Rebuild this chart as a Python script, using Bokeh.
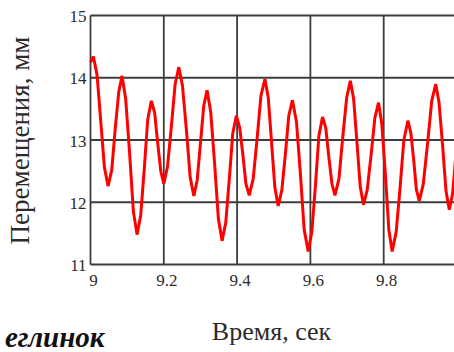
import math

from bokeh.plotting import figure
from bokeh.models import Range1d, Label
from bokeh.core.properties import value
from bokeh.embed import file_html
from bokeh.resources import INLINE

# Displacement record, time in seconds, displacement in mm
time_s = [
    9.000, 9.008, 9.018, 9.028, 9.038, 9.048, 9.058, 9.067, 9.077, 9.086,
    9.096, 9.107, 9.117, 9.127, 9.137, 9.147, 9.156, 9.166, 9.175, 9.183,
    9.192, 9.200, 9.210, 9.221, 9.231, 9.241, 9.251, 9.262, 9.272, 9.282,
    9.291, 9.300, 9.309, 9.318, 9.328, 9.339, 9.349, 9.359, 9.369, 9.379,
    9.388, 9.398, 9.407, 9.416, 9.424, 9.433, 9.444, 9.455, 9.465, 9.476,
    9.485, 9.494, 9.503, 9.512, 9.522, 9.532, 9.541, 9.551, 9.562, 9.573,
    9.583, 9.594, 9.604, 9.614, 9.623, 9.633, 9.642, 9.650, 9.659, 9.667,
    9.678, 9.688, 9.699, 9.709, 9.718, 9.727, 9.736, 9.745, 9.755, 9.766,
    9.776, 9.786, 9.795, 9.805, 9.814, 9.823, 9.834, 9.845, 9.855, 9.866,
    9.874, 9.882, 9.889, 9.897, 9.908, 9.920, 9.931, 9.942, 9.951, 9.961,
    9.970, 9.979, 9.988, 9.995, 10.000,
]
displacement_mm = [
    14.25, 14.34, 14.04, 13.30, 12.56, 12.26, 12.52, 13.15, 13.77, 14.03,
    13.66, 12.76, 11.85, 11.48, 11.79, 12.56, 13.32, 13.63, 13.44, 12.97,
    12.49, 12.30, 12.57, 13.24, 13.90, 14.17, 13.87, 13.14, 12.40, 12.10,
    12.35, 12.95, 13.55, 13.80, 13.45, 12.59, 11.73, 11.38, 11.67, 12.39,
    13.10, 13.39, 13.20, 12.75, 12.30, 12.11, 12.38, 13.05, 13.71, 13.98,
    13.68, 12.96, 12.24, 11.94, 12.19, 12.79, 13.39, 13.64, 13.29, 12.43,
    11.56, 11.21, 11.53, 12.29, 13.06, 13.37, 13.19, 12.74, 12.29, 12.11,
    12.38, 13.03, 13.68, 13.95, 13.66, 12.96, 12.25, 11.96, 12.20, 12.78,
    13.36, 13.60, 13.25, 12.41, 11.56, 11.21, 11.52, 12.26, 13.00, 13.31,
    13.12, 12.67, 12.21, 12.02, 12.29, 12.96, 13.63, 13.90, 13.60, 12.89,
    12.18, 11.88, 12.14, 12.62, 12.95,
]

x_min, x_max = 9.0, 10.0
y_min, y_max = 11.0, 15.0
x_ticks = [9.0, 9.2, 9.4, 9.6, 9.8]
x_tick_labels = ["9", "9.2", "9.4", "9.6", "9.8"]
y_ticks = [11, 12, 13, 14, 15]
y_tick_labels = ["11", "12", "13", "14", "15"]

SERIF = "Liberation Serif"
INK = "#2b2b2b"
W, H = 454, 352

# The drawing frame fills the whole canvas so the captions outside the
# plotting box can sit anywhere; the plotting box starts 90 px from the left
# and 15 px from the top, at 366.5 px per second and 62.25 px per mm.
PX_PER_S = 366.5
PX_PER_MM = 62.25
x_start = x_min - 90 / PX_PER_S
y_end = y_max + 15 / PX_PER_MM

p = figure(
    width=W, height=H,
    output_backend="svg", toolbar_location=None,
    x_axis_location=None, y_axis_location=None,
    x_range=Range1d(x_start, x_start + W / PX_PER_S),
    y_range=Range1d(y_end - H / PX_PER_MM, y_end),
    min_border_left=0, min_border_right=0, min_border_top=0, min_border_bottom=0,
)
p.outline_line_color = None
p.background_fill_color = "white"
p.border_fill_color = "white"
for g in p.grid:
    g.visible = False

# grid lines, which also form the box
grid_style = dict(line_color="#3c3c3c", line_width=1.8)
p.segment(x0=x_ticks, y0=[y_min] * len(x_ticks), x1=x_ticks, y1=[y_max] * len(x_ticks), **grid_style)
p.segment(x0=[x_min] * len(y_ticks), y0=y_ticks, x1=[x_max] * len(y_ticks), y1=y_ticks, **grid_style)

# tick labels
p.text(x=x_ticks, y=[y_min] * len(x_ticks), text=x_tick_labels,
       x_offset=3, y_offset=10, text_align="center", text_baseline="top",
       text_font=value(SERIF), text_font_size="17px", text_color=INK)
p.text(x=[x_min] * len(y_ticks), y=y_ticks, text=y_tick_labels,
       x_offset=-4, y_offset=1, text_align="right", text_baseline="middle",
       text_font=value(SERIF), text_font_size="17px", text_color=INK)

p.line(time_s, displacement_mm, line_color="#ff0000", line_width=3.0)

# axis titles and the caption fragment, in screen pixels from the bottom-left
p.add_layout(Label(
    x=19, y=H - 140, x_units="screen", y_units="screen",
    text="Перемещения, мм", angle=math.pi / 2,
    text_align="center", text_baseline="middle",
    text_font=SERIF, text_font_size="27px", text_color=INK,
))
p.add_layout(Label(
    x=271, y=21, x_units="screen", y_units="screen",
    text="Время, сек", text_align="center", text_baseline="alphabetic",
    text_font=SERIF, text_font_size="26px", text_color=INK,
))
p.add_layout(Label(
    x=104, y=16, x_units="screen", y_units="screen",
    text="еглинок", text_align="right", text_baseline="alphabetic",
    text_font=SERIF, text_font_size="29px",
    text_font_style="bold italic", text_color="#111111",
))

open("out.html", "w").write(file_html(p, INLINE))
